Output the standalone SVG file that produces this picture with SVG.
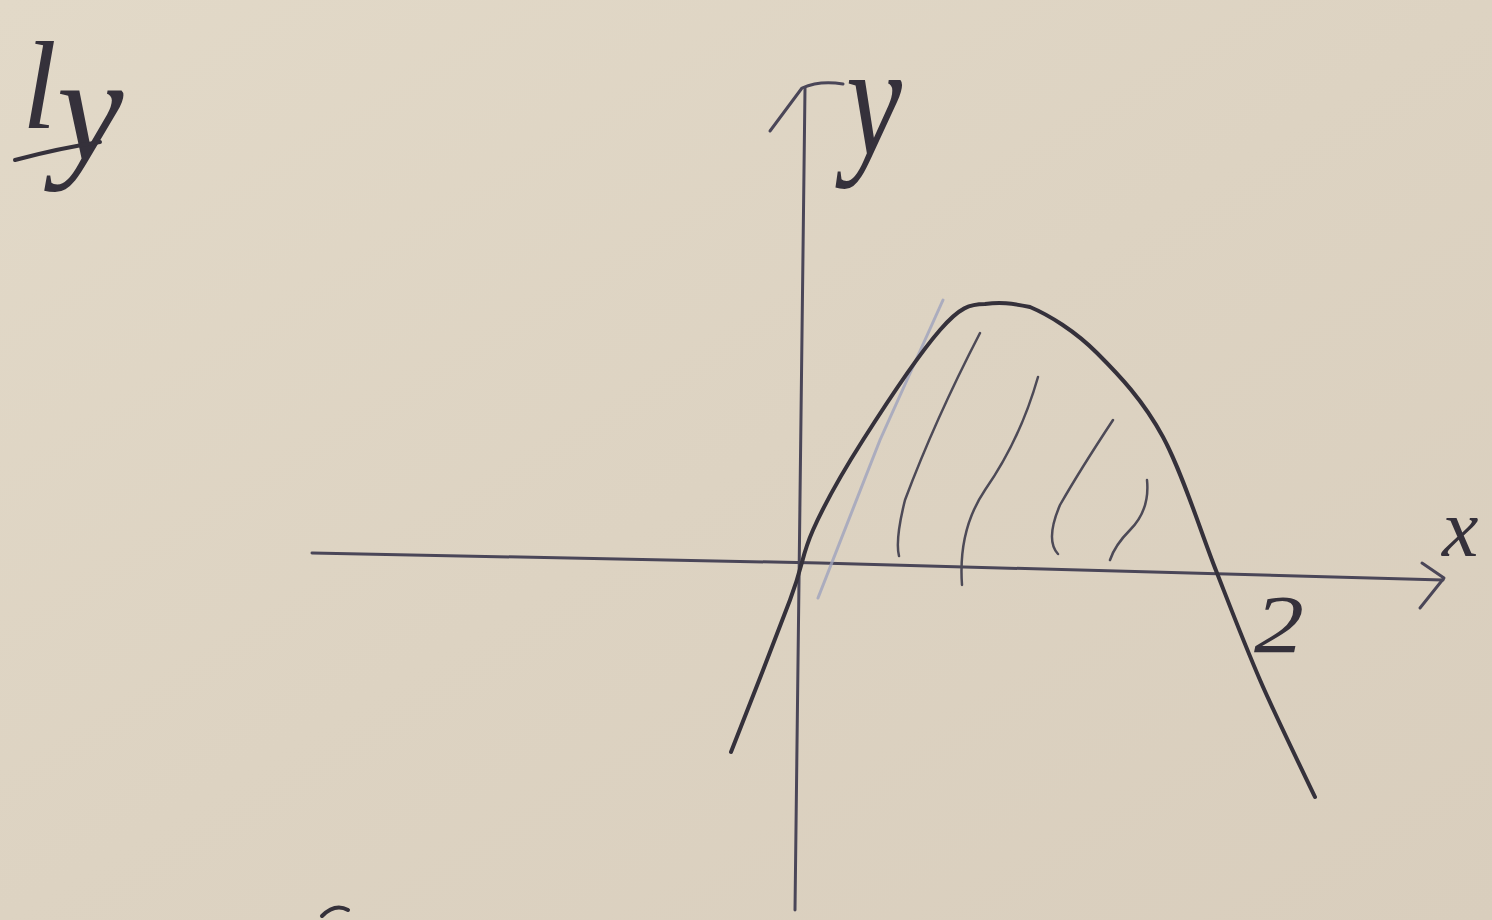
<svg xmlns="http://www.w3.org/2000/svg" width="1492" height="920" viewBox="0 0 1492 920">
<defs>
<linearGradient id="paper" x1="0" y1="0" x2="1" y2="1">
<stop offset="0" stop-color="#e2d9c8"/>
<stop offset="0.5" stop-color="#ddd3c2"/>
<stop offset="1" stop-color="#d9cebd"/>
</linearGradient>
</defs>
<style>
.ink{fill:none;stroke:#35313b;stroke-width:4;stroke-linecap:round;stroke-linejoin:round}
.axis{fill:none;stroke:#4a4658;stroke-width:3;stroke-linecap:round;stroke-linejoin:round}
.hatch{fill:none;stroke:#4d4a57;stroke-width:2.5;stroke-linecap:round}
.faint{fill:none;stroke:#9fa3bd;stroke-width:3;stroke-linecap:round;opacity:0.8}
.hand{font-family:"Liberation Serif",serif;font-style:italic;fill:#35313b}
</style>
<rect width="1492" height="920" fill="url(#paper)"/>

<g id="label-ly">
<text class="hand" x="22" y="128" font-size="125">l<tspan dy="32" font-size="150">y</tspan></text>
<path class="ink" d="M15 160 Q60 148 100 142" stroke-width="3.5"/>
</g>

<g id="axes">
<path class="axis" d="M312 553 Q700 560 820 563 Q1100 572 1443 580"/>
<path class="axis" d="M1422 563 L1444 578 L1420 608"/>
<path class="axis" d="M795 910 Q800 500 805 88"/>
<path class="axis" d="M770 131 L802 88 Q820 80 843 84"/>
</g>

<g id="hatching">
<path class="faint" d="M818 598 L880 440 L943 300"/>
<path class="hatch" d="M980 333 Q935 420 905 500 Q895 540 899 556"/>
<path class="hatch" d="M1038 377 Q1020 440 985 490 Q958 530 962 585"/>
<path class="hatch" d="M1113 420 Q1080 470 1060 505 Q1045 540 1058 554"/>
<path class="hatch" d="M1147 480 Q1150 510 1130 530 Q1115 545 1110 560"/>
</g>

<g id="curve">
<path class="ink" d="M731 752 C741 727 776 637 790 600 C804 563 801 557 813 530 C825 503 842 473 863 440 C884 407 920 353 940 330 C960 307 970 304 985 304 C1000 302 1011 303 1030 307 C1049 315 1075 331 1097 353 C1119 375 1143 400 1163 437 C1183 474 1201 533 1217 573 C1233 614 1244 643 1260 680 C1276 717 1306 778 1315 797"/>
</g>

<g id="labels">
<text class="hand" x="846" y="155" font-size="160" textLength="56" lengthAdjust="spacingAndGlyphs">y</text>
<text class="hand" x="1442" y="556" font-size="82">x</text>
<text class="hand" x="1254" y="652" font-size="82" textLength="50" lengthAdjust="spacingAndGlyphs">2</text>
<path class="ink" d="M322 916 Q335 903 348 910"/>
</g>
</svg>
